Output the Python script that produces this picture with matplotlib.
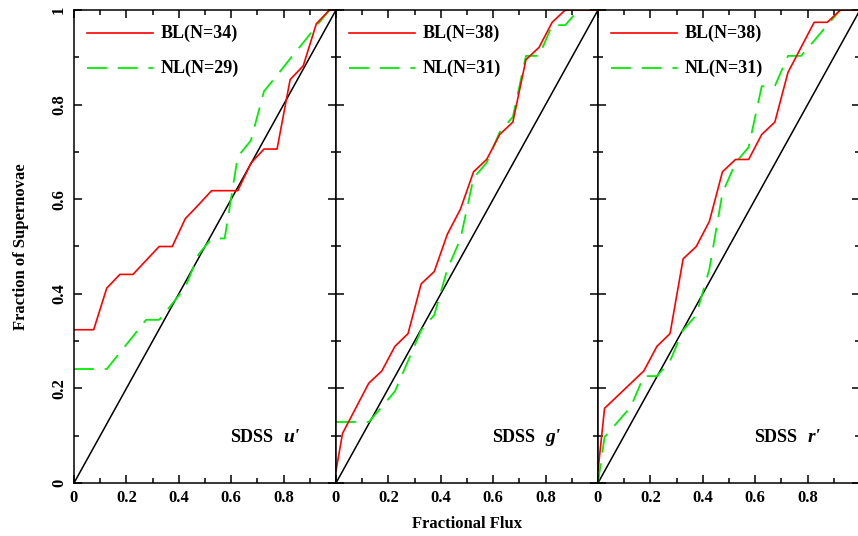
import numpy as np
import matplotlib
matplotlib.use("Agg")
import matplotlib.pyplot as plt
from matplotlib.ticker import MultipleLocator, FuncFormatter

plt.rcParams['font.family'] = ['Liberation Serif', 'DejaVu Serif']
plt.rcParams['font.weight'] = 'bold'
plt.rcParams['axes.labelweight'] = 'bold'

# u' band
flux_u_bl = [0, 0.075, 0.125, 0.175, 0.225, 0.325, 0.375, 0.425, 0.475, 0.525,
             0.625, 0.675, 0.725, 0.775, 0.825, 0.875, 0.925, 0.975, 1.0]
frac_u_bl = [0.324, 0.324, 0.412, 0.441, 0.441, 0.500, 0.500, 0.559, 0.588, 0.618,
             0.618, 0.676, 0.706, 0.706, 0.853, 0.882, 0.971, 1.0, 1.0]
flux_u_nl = [0, 0.125, 0.225, 0.275, 0.325, 0.375, 0.425, 0.475, 0.525, 0.575,
             0.625, 0.675, 0.725, 0.775, 0.825, 0.875, 0.925, 0.975, 1.0]
frac_u_nl = [0.241, 0.241, 0.310, 0.345, 0.345, 0.379, 0.414, 0.483, 0.517, 0.517,
             0.690, 0.724, 0.828, 0.862, 0.897, 0.931, 0.966, 1.0, 1.0]

# g' band
flux_g_bl = [0, 0.025, 0.125, 0.175, 0.225, 0.275, 0.325, 0.375, 0.425, 0.475,
             0.525, 0.575, 0.625, 0.675, 0.725, 0.775, 0.825, 0.875, 1.0]
frac_g_bl = [0.026, 0.105, 0.211, 0.237, 0.289, 0.316, 0.421, 0.447, 0.526, 0.579,
             0.658, 0.684, 0.737, 0.763, 0.895, 0.921, 0.974, 1.0, 1.0]
flux_g_nl = [0, 0.125, 0.175, 0.225, 0.275, 0.325, 0.375, 0.425, 0.475, 0.525,
             0.575, 0.625, 0.675, 0.725, 0.775, 0.825, 0.875, 0.925, 1.0]
frac_g_nl = [0.129, 0.129, 0.161, 0.194, 0.258, 0.323, 0.355, 0.452, 0.516, 0.645,
             0.677, 0.742, 0.774, 0.903, 0.903, 0.968, 0.968, 1.0, 1.0]

# r' band
flux_r_bl = [0, 0.025, 0.175, 0.225, 0.275, 0.325, 0.375, 0.425, 0.475, 0.525,
             0.575, 0.625, 0.675, 0.725, 0.775, 0.825, 0.875, 0.925, 1.0]
frac_r_bl = [0.026, 0.158, 0.237, 0.289, 0.316, 0.474, 0.500, 0.553, 0.658, 0.684,
             0.684, 0.737, 0.763, 0.868, 0.921, 0.974, 0.974, 1.0, 1.0]
flux_r_nl = [0, 0.025, 0.125, 0.175, 0.225, 0.275, 0.325, 0.375, 0.425, 0.475,
             0.525, 0.575, 0.625, 0.675, 0.725, 0.775, 0.825, 0.875, 0.925, 1.0]
frac_r_nl = [0, 0.097, 0.161, 0.226, 0.226, 0.258, 0.323, 0.355, 0.452, 0.613,
             0.677, 0.710, 0.839, 0.839, 0.903, 0.903, 0.935, 0.968, 1.0, 1.0]

panels = [
    (flux_u_bl, frac_u_bl, flux_u_nl, frac_u_nl, 'BL(N=34)', 'NL(N=29)', "u'"),
    (flux_g_bl, frac_g_bl, flux_g_nl, frac_g_nl, 'BL(N=38)', 'NL(N=31)', "g'"),
    (flux_r_bl, frac_r_bl, flux_r_nl, frac_r_nl, 'BL(N=38)', 'NL(N=31)', "r'"),
]

fig = plt.figure(figsize=(8.58, 5.36), dpi=100)
left0 = 74 / 858
w = 262 / 858
bottom = 1 - 483 / 536
h = 473 / 536


def fmt(v, pos):
    if abs(v) < 1e-9:
        return '0'
    if abs(v - 1) < 1e-9:
        return '1'
    return '%.1f' % v


for i, (xb, yb, xn, yn, lb, ln, band) in enumerate(panels):
    ax = fig.add_axes([left0 + i * w, bottom, w, h])
    ax.plot([0, 1], [0, 1], color='black', lw=1.1)
    ax.plot(xn, yn, color='#00ee00', lw=1.3, dashes=(11, 6))
    ax.plot(xb, yb, color='#ff0000', lw=1.2)
    ax.set_xlim(0, 1)
    ax.set_ylim(0, 1)

    # legend drawn PGPLOT style
    ax.plot([0.05, 0.3], [0.951, 0.951], color='#ff0000', lw=1.2)
    ax.plot([0.05, 0.3], [0.877, 0.877], color='#00ee00', lw=1.3, dashes=(11, 6))
    ax.text(0.33, 0.951, lb, fontsize=13, va='center', ha='left')
    ax.text(0.33, 0.877, ln, fontsize=13, va='center', ha='left')

    ax.text(0.595, 0.097, 'SDSS', fontsize=13, va='center', ha='left')
    ax.text(0.80, 0.097, band, fontsize=14, va='center', ha='left',
            style='italic')

    ax.xaxis.set_major_locator(MultipleLocator(0.2))
    ax.xaxis.set_minor_locator(MultipleLocator(0.1))
    ax.yaxis.set_major_locator(MultipleLocator(0.2))
    ax.yaxis.set_minor_locator(MultipleLocator(0.1))
    ax.tick_params(which='both', direction='in', top=True, right=True,
                   width=1.1, labelsize=12)
    ax.tick_params(which='major', length=6, pad=5)
    ax.tick_params(which='minor', length=3.5)
    ax.xaxis.set_major_formatter(FuncFormatter(
        lambda v, p: '' if v > 0.95 else fmt(v, p)))
    ax.yaxis.set_major_formatter(FuncFormatter(fmt))
    for s in ax.spines.values():
        s.set_linewidth(1.1)
    if i == 0:
        for lbl in ax.get_yticklabels():
            lbl.set_rotation(90)
            lbl.set_va('center')
        ax.set_ylabel('Fraction of Supernovae', fontsize=12, labelpad=16)
    else:
        ax.tick_params(labelleft=False)
    if i == 1:
        ax.set_xlabel('Fractional Flux', fontsize=12, labelpad=7)

fig.savefig('out.png', dpi=100)
